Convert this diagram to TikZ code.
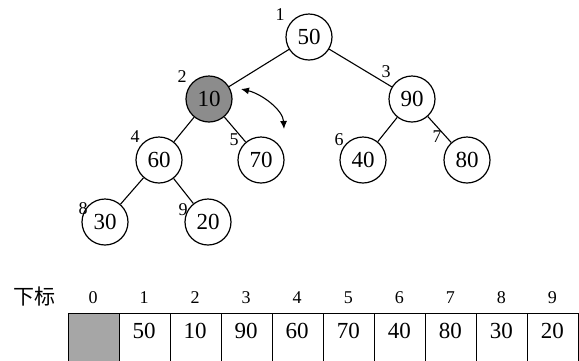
\documentclass[tikz,border=0pt]{standalone}
\usepackage{fontspec}
\setmainfont{Liberation Serif}
\newfontfamily\cjk{Noto Sans CJK SC}
\usetikzlibrary{arrows.meta}
\tikzset{
  hnode/.style={circle,draw,line width=1.2pt,minimum size=46pt,inner sep=0pt,font=\fontsize{23}{23}\selectfont},
  hgray/.style={hnode,fill=gray!90},
  idx/.style={font=\fontsize{18}{18}\selectfont,inner sep=0pt},
  edge/.style={line width=1.1pt},
  cell/.style={draw,line width=1.1pt,minimum width=51.05pt,minimum height=50pt,inner sep=0pt,anchor=north west},
  val/.style={font=\fontsize{23}{23}\selectfont,inner sep=0pt}
}
\begin{document}
\begin{tikzpicture}[x=1pt,y=-1pt]
\useasboundingbox (0,0) rectangle (579,360);
\begin{scope}
\clip (0,0) rectangle (579,360);
% tree nodes
\node[hnode] (n1) at (309,37) {50};
\node[hgray] (n2) at (209,99) {10};
\node[hnode] (n3) at (412,99) {90};
\node[hnode] (n4) at (159,160) {60};
\node[hnode] (n5) at (261,160) {70};
\node[hnode] (n6) at (363,160) {40};
\node[hnode] (n7) at (467,160) {80};
\node[hnode] (n8) at (105,222) {30};
\node[hnode] (n9) at (208,222) {20};
\draw[edge] (n1) -- (n2);
\draw[edge] (n1) -- (n3);
\draw[edge] (n2) -- (n4);
\draw[edge] (n2) -- (n5);
\draw[edge] (n3) -- (n6);
\draw[edge] (n3) -- (n7);
\draw[edge] (n4) -- (n8);
\draw[edge] (n4) -- (n9);
% position labels
\node[idx] (l1) at (280,15) {1};
\node[idx] (l2) at (182,77) {2};
\node[idx] (l3) at (386,72) {3};
\node[idx] (l4) at (135,137) {4};
\node[idx] (l5) at (234,140) {5};
\node[idx] (l6) at (339,140) {6};
\node[idx] (l7) at (437,137) {7};
\node[idx] (l8) at (83,209) {8};
\node[idx] (l9) at (183,210) {9};
% swap arrow
\coordinate (a1) at (241,89);
\coordinate (a2) at (284,129);
\draw[line width=1.1pt,{Latex[length=8pt,width=7pt]}-{Latex[length=8pt,width=7pt]}] (a1) .. controls (262,94) and (283,110) .. (a2);
% array
\node[font=\cjk\fontsize{21}{21}\selectfont,inner sep=0pt] (lab) at (34,297) {下标};
\foreach \i/\v in {0/,1/50,2/10,3/90,4/60,5/70,6/40,7/80,8/30,9/20}{
  \node[idx] (i\i) at ({93+51.05*\i},298) {\i};
  \ifnum\i=0
    \node[cell,fill=gray!70] (c\i) at ({67.5+51.05*\i},312.5) {};
  \else
    \node[cell] (c\i) at ({67.5+51.05*\i},312.5) {};
    \node[val] (v\i) at ({93+51.05*\i},331) {\v};
  \fi
}
\end{scope}
\end{tikzpicture}
\end{document}
